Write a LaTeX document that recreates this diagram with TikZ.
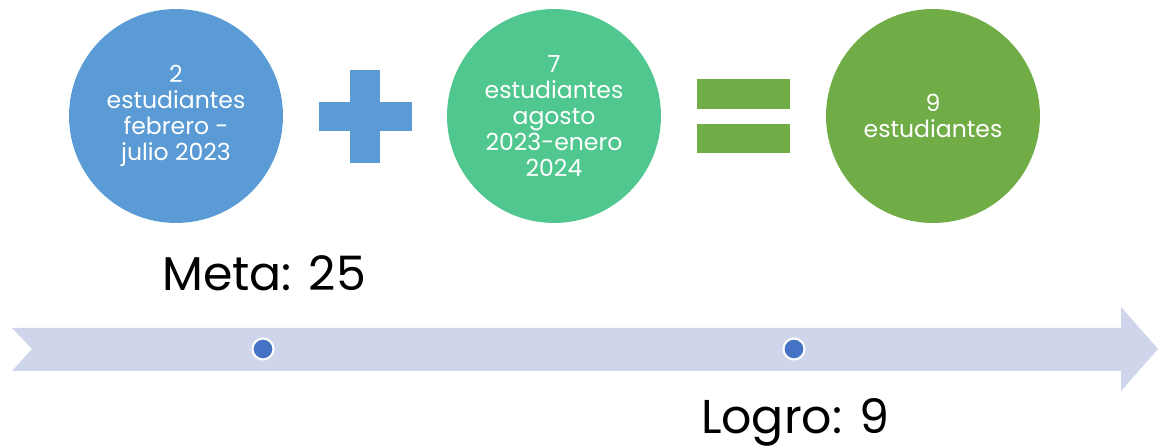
\documentclass[tikz,border=0pt]{standalone}
\usepackage{fontspec}
\setmainfont{Poppins}
\definecolor{cblue}{HTML}{5B9BD5}
\definecolor{cteal}{HTML}{50C78E}
\definecolor{cgreen}{HTML}{70AD47}
\definecolor{carrow}{HTML}{CFD5EA}
\definecolor{cdot}{HTML}{4472C4}
\tikzset{
  bubble/.style={circle, minimum size=4.28cm, inner sep=0pt, text=white,
    align=center, font=\fontsize{13.4}{14.7}\selectfont},
  dot/.style={circle, fill=cdot, draw=white, line width=1.2pt, minimum size=0.42cm, inner sep=0pt},
  big/.style={font=\fontsize{27}{32}\selectfont, text=black, inner sep=0pt}
}
\begin{document}
\begin{tikzpicture}[x=0.02cm,y=-0.02cm]
\useasboundingbox (0,0) rectangle (1158,448);
% timeline arrow
\fill[carrow] (12,328) -- (1121,328) -- (1121,307) -- (1158,349) -- (1121,391)
  -- (1121,371) -- (12,371) -- (32,349) -- cycle;
% circles
\node[bubble, fill=cblue] (c1) at (176,116) {2\\estudiantes\\febrero -\\julio 2023};
\node[bubble, fill=cteal] (c2) at (554,116) {7\\estudiantes\\agosto\\2023-enero\\2024};
\node[bubble, fill=cgreen] (c3) at (933,116) {9\\estudiantes};
% plus
\fill[cblue] (350,70) rectangle (380,163);
\fill[cblue] (319,102) rectangle (412,131);
% equals
\fill[cgreen] (697,79) rectangle (790,109);
\fill[cgreen] (697,124) rectangle (790,153);
% dots
\node[dot] (d1) at (263,349) {};
\node[dot] (d2) at (794,349) {};
% labels
\node[big] (meta) at (264,273) {Meta: 25};
\node[big] (logro) at (795,422) {Logro: 9};
\end{tikzpicture}
\end{document}
